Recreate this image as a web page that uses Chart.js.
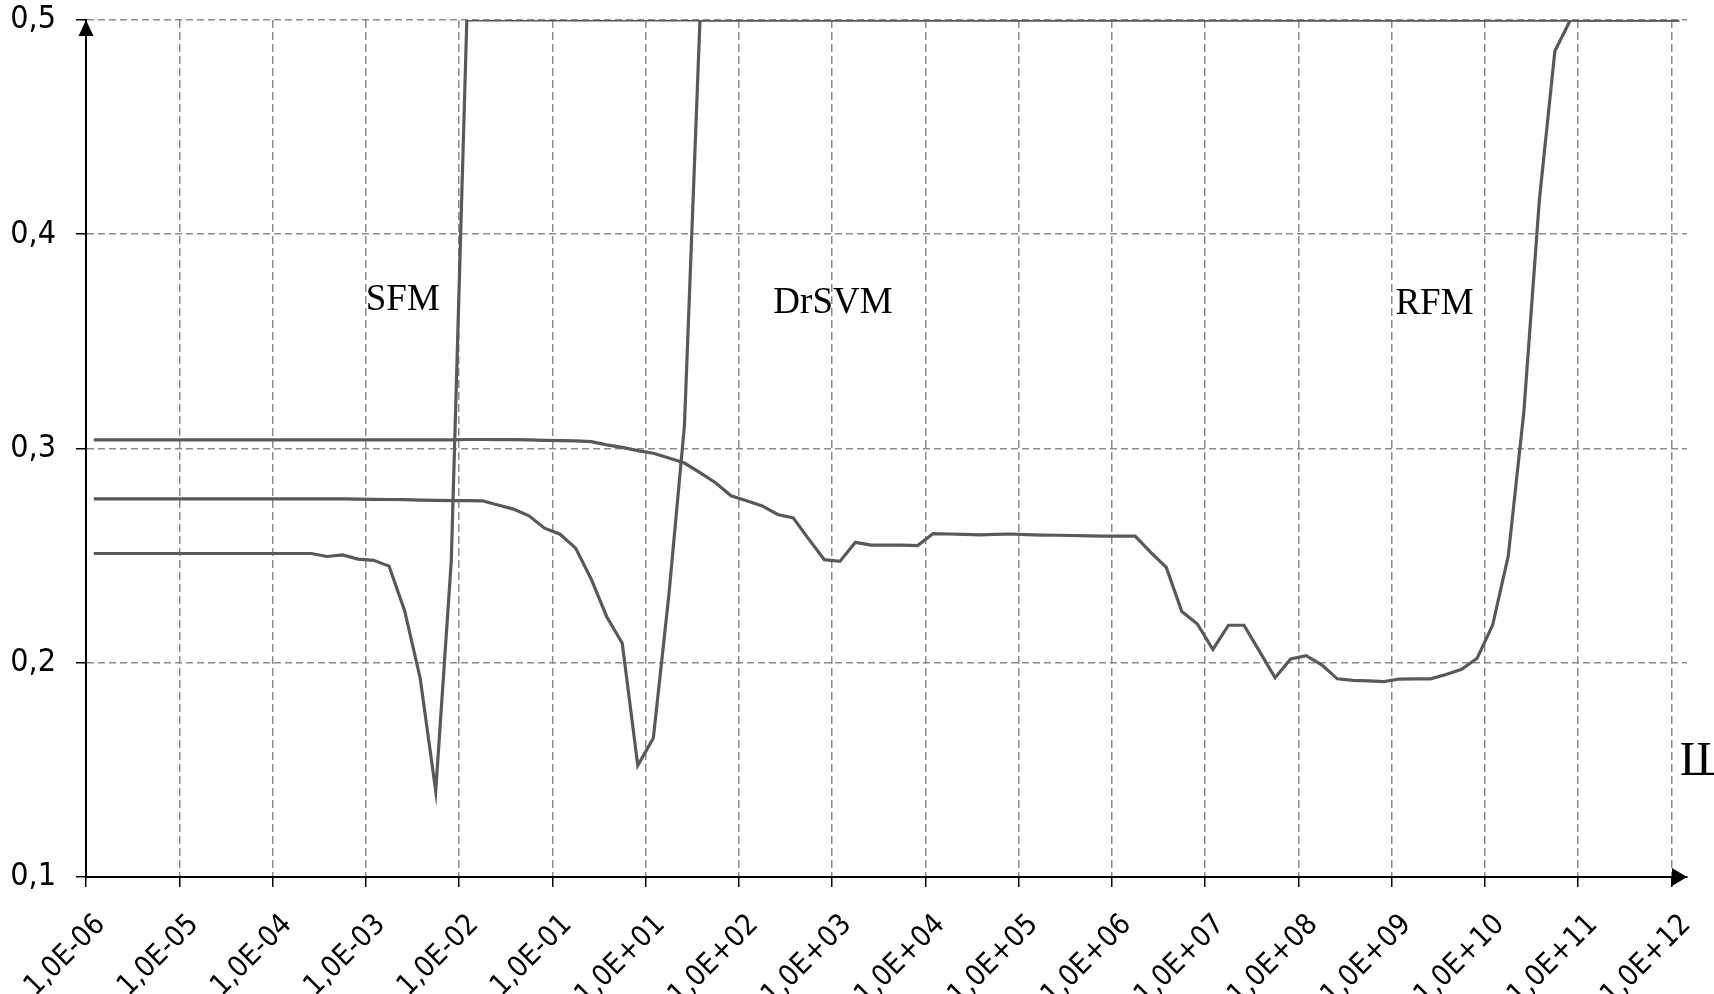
<!DOCTYPE html>
<html>
<head>
<meta charset="utf-8">
<script src="https://cdn.jsdelivr.net/npm/chart.js@4.4.0/dist/chart.umd.min.js"></script>
<style>
  html, body { margin: 0; padding: 0; background: #fff; }
</style>
</head>
<body>
<canvas id="chart" width="1714" height="994"></canvas>
<script>
// Axis labels (the source has no 1,0E+00 label)
const xTickLabels = ['1,0E-06', '1,0E-05', '1,0E-04', '1,0E-03', '1,0E-02', '1,0E-01',
    '1,0E+01', '1,0E+02', '1,0E+03', '1,0E+04', '1,0E+05', '1,0E+06', '1,0E+07',
    '1,0E+08', '1,0E+09', '1,0E+10', '1,0E+11', '1,0E+12'];
const yTickLabels = ['0,1', '0,2', '0,3', '0,4', '0,5'];

// 6 samples per decade, 103 samples per series
const pointsPerDecade = 6;

const sfm = [
    0.251, 0.251, 0.251, 0.251, 0.251, 0.251, 0.251, 0.251, 0.251, 0.251,
    0.251, 0.251, 0.251, 0.251, 0.251, 0.2496, 0.2503, 0.2484, 0.2478, 0.2451,
    0.2243, 0.1928, 0.1401, 0.2476, 0.5, 0.5, 0.5, 0.5, 0.5, 0.5,
    0.5, 0.5, 0.5, 0.5, 0.5, 0.5, 0.5, 0.5, 0.5, 0.5,
    0.5, 0.5, 0.5, 0.5, 0.5, 0.5, 0.5, 0.5, 0.5, 0.5,
    0.5, 0.5, 0.5, 0.5, 0.5, 0.5, 0.5, 0.5, 0.5, 0.5,
    0.5, 0.5, 0.5, 0.5, 0.5, 0.5, 0.5, 0.5, 0.5, 0.5,
    0.5, 0.5, 0.5, 0.5, 0.5, 0.5, 0.5, 0.5, 0.5, 0.5,
    0.5, 0.5, 0.5, 0.5, 0.5, 0.5, 0.5, 0.5, 0.5, 0.5,
    0.5, 0.5, 0.5, 0.5, 0.5, 0.5, 0.5, 0.5, 0.5, 0.5,
    0.5, 0.5, 0.5
];

const drsvm = [
    0.2765, 0.2765, 0.2765, 0.2765, 0.2765, 0.2765, 0.2765, 0.2765, 0.2765, 0.2765,
    0.2765, 0.2765, 0.2765, 0.2765, 0.2765, 0.2765, 0.2765, 0.2764, 0.2763, 0.2762,
    0.2761, 0.2759, 0.2758, 0.2757, 0.2757, 0.2756, 0.2736, 0.2717, 0.2686, 0.2628,
    0.2600, 0.2535, 0.2391, 0.2215, 0.2091, 0.1520, 0.1649, 0.2317, 0.3107, 0.5,
    0.5, 0.5, 0.5, 0.5, 0.5, 0.5, 0.5, 0.5, 0.5, 0.5,
    0.5, 0.5, 0.5, 0.5, 0.5, 0.5, 0.5, 0.5, 0.5, 0.5,
    0.5, 0.5, 0.5, 0.5, 0.5, 0.5, 0.5, 0.5, 0.5, 0.5,
    0.5, 0.5, 0.5, 0.5, 0.5, 0.5, 0.5, 0.5, 0.5, 0.5,
    0.5, 0.5, 0.5, 0.5, 0.5, 0.5, 0.5, 0.5, 0.5, 0.5,
    0.5, 0.5, 0.5, 0.5, 0.5, 0.5, 0.5, 0.5, 0.5, 0.5,
    0.5, 0.5, 0.5
];

const rfm = [
    0.304, 0.304, 0.304, 0.304, 0.304, 0.304, 0.304, 0.304, 0.304, 0.304,
    0.304, 0.304, 0.304, 0.304, 0.304, 0.304, 0.304, 0.304, 0.304, 0.304,
    0.304, 0.304, 0.304, 0.304, 0.3042, 0.3042, 0.3041, 0.3041, 0.3040, 0.3038,
    0.3037, 0.3036, 0.3032, 0.3017, 0.3005, 0.2990, 0.2978, 0.2956, 0.2932, 0.2887,
    0.2840, 0.2779, 0.2756, 0.2732, 0.2692, 0.2676, 0.2577, 0.2481, 0.2473, 0.2562,
    0.2549, 0.2549, 0.2549, 0.2547, 0.2603, 0.2601, 0.2599, 0.2597, 0.2599, 0.2601,
    0.2598, 0.2596, 0.2595, 0.2594, 0.2592, 0.2591, 0.2591, 0.2591, 0.2515, 0.2445,
    0.2239, 0.2181, 0.2062, 0.2175, 0.2175, 0.2053, 0.1930, 0.2018, 0.2033, 0.1990,
    0.1925, 0.1918, 0.1915, 0.1912, 0.1924, 0.1925, 0.1925, 0.1945, 0.1969, 0.2021,
    0.2177, 0.2498, 0.3168, 0.4158, 0.4855, 0.5, 0.5, 0.5, 0.5, 0.5,
    0.5, 0.5, 0.5
];

// Text placed on the plot (in axis units)
const notes = [
    {text: 'SFM', x: 3.0, y: 0.3645, size: 37},
    {text: 'DrSVM', x: 7.37, y: 0.3633, size: 37},
    {text: 'RFM', x: 14.04, y: 0.363, size: 37},
    {text: 'Ш', x: 17.09, y: 0.1477, size: 48}
];

const tickFamily = "'DejaVu Sans Condensed', 'DejaVu Sans', sans-serif";
const lineColor = '#595959';
const gridColor = '#8c8c8c';

// samples sit in the middle of each 1/6 decade slot
const toPoints = function(values){
    return values.map((v, k) => ({x: (k + 0.5) / pointsPerDecade, y: v}));
};

const makeSet = function(label, values){
    return {
        label: label,
        data: toPoints(values),
        borderColor: lineColor,
        borderWidth: 3.2,
        pointRadius: 0,
        tension: 0,
        fill: false
    };
};

// Arrow heads on the axes and the free text
const decorations = {
    id: 'decorations',
    afterDraw(chart){
        const ctx = chart.ctx, a = chart.chartArea;
        const xs = chart.scales.x, ys = chart.scales.y;
        ctx.save();
        ctx.fillStyle = '#000';

        ctx.beginPath();
        ctx.moveTo(a.left, a.top);
        ctx.lineTo(a.left - 7.5, a.top + 16);
        ctx.lineTo(a.left + 7.5, a.top + 16);
        ctx.closePath();
        ctx.fill();

        ctx.beginPath();
        ctx.moveTo(a.right, a.bottom);
        ctx.lineTo(a.right - 15, a.bottom - 9);
        ctx.lineTo(a.right - 15, a.bottom + 9);
        ctx.closePath();
        ctx.fill();

        ctx.textBaseline = 'alphabetic';
        ctx.textAlign = 'left';
        notes.forEach(function(n){
            ctx.font = n.size + "px 'Liberation Serif', 'Times New Roman', serif";
            ctx.fillText(n.text, xs.getPixelForValue(n.x), ys.getPixelForValue(n.y));
        });
        ctx.restore();
    }
};

new Chart(document.getElementById('chart'), {
    type: 'line',
    data: {
        datasets: [makeSet('SFM', sfm), makeSet('DrSVM', drsvm), makeSet('RFM', rfm)]
    },
    options: {
        responsive: false,
        animation: false,
        devicePixelRatio: 1,
        layout: {padding: {top: 0, right: 27, left: 0, bottom: 0}},
        plugins: {
            legend: {display: false},
            tooltip: {enabled: false}
        },
        scales: {
            x: {
                type: 'linear',
                bounds: 'data',
                min: 0,
                max: 103 / pointsPerDecade,
                afterFit: function(s){
                    s.height = 117;
                    s.paddingLeft = 0;
                    s.paddingRight = 0;
                },
                ticks: {
                    stepSize: 1,
                    includeBounds: false,
                    autoSkip: false,
                    minRotation: 45,
                    maxRotation: 45,
                    padding: 21,
                    labelOffset: 15,
                    color: '#000',
                    font: {family: tickFamily, size: 29},
                    callback: function(v){ return xTickLabels[Math.round(v)]; }
                },
                grid: {
                    color: gridColor,
                    lineWidth: 1.5,
                    tickLength: 10,
                    tickColor: '#000',
                    tickWidth: 1.5,
                    tickBorderDash: []
                },
                border: {display: true, color: '#000', width: 2, dash: [8, 4]}
            },
            y: {
                type: 'linear',
                min: 0.1,
                max: 0.5,
                afterFit: function(s){
                    s.width = 86;
                    s.paddingTop = 20;
                },
                ticks: {
                    stepSize: 0.1,
                    padding: 20,
                    color: '#000',
                    font: {family: tickFamily, size: 32},
                    callback: function(v){ return yTickLabels[Math.round(v * 10) - 1]; }
                },
                grid: {
                    color: gridColor,
                    lineWidth: 1.5,
                    tickLength: 10,
                    tickColor: '#000',
                    tickWidth: 1.5,
                    tickBorderDash: []
                },
                border: {display: true, color: '#000', width: 2, dash: [7, 4]}
            }
        }
    },
    plugins: [decorations]
});
</script>
</body>
</html>
